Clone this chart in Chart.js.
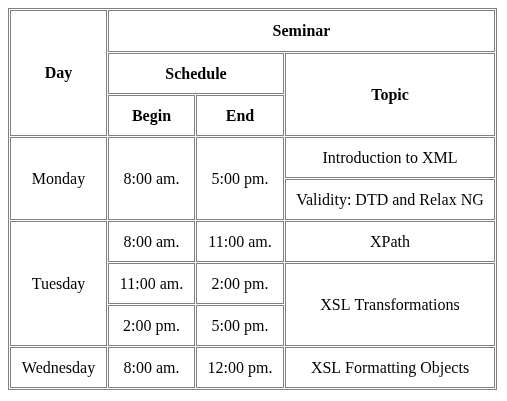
<!DOCTYPE html>
<html><head><meta charset="utf-8">
<script src="https://cdn.jsdelivr.net/npm/chart.js@4"></script>
<style>html,body{margin:0;padding:0;background:#fff}</style>
</head><body>
<canvas id="c" width="507" height="401"></canvas>
<script>
const headers = ["Day","Seminar","Schedule","Topic","Begin","End"];
const days = ["Monday","Tuesday","Wednesday"];
const begins = ["8:00 am.","8:00 am.","11:00 am.","2:00 pm.","8:00 am."];
const ends = ["5:00 pm.","11:00 am.","2:00 pm.","5:00 pm.","12:00 pm."];
const topics = ["Introduction to XML","Validity: DTD and Relax NG","XPath","XSL Transformations","XSL Formatting Objects"];
const colStarts=[10,108,196,285], colEnds=[106,194,283,494];
const rowStarts=[10,53,95,137,179,221,263,305,347], rowEnds=[51,93,135,177,219,261,303,345,387];
const cells=[
 [0,0,1,3,headers[0],1],[1,0,3,1,headers[1],1],[1,1,2,1,headers[2],1],[3,1,1,2,headers[3],1],
 [1,2,1,1,headers[4],1],[2,2,1,1,headers[5],1],
 [0,3,1,2,days[0],0],[1,3,1,2,begins[0],0],[2,3,1,2,ends[0],0],[3,3,1,1,topics[0],0],[3,4,1,1,topics[1],0],
 [0,5,1,3,days[1],0],[1,5,1,1,begins[1],0],[2,5,1,1,ends[1],0],[3,5,1,1,topics[2],0],
 [1,6,1,1,begins[2],0],[2,6,1,1,ends[2],0],[3,6,1,2,topics[3],0],
 [1,7,1,1,begins[3],0],[2,7,1,1,ends[3],0],
 [0,8,1,1,days[2],0],[1,8,1,1,begins[4],0],[2,8,1,1,ends[4],0],[3,8,1,1,topics[4],0]
];
const tablePlugin={id:'tbl',afterDraw(chart){
 const ctx=chart.ctx,x=chart.scales.x,y=chart.scales.y;
 ctx.save();ctx.lineWidth=1;ctx.strokeStyle='#808080';
 const X=v=>Math.round(x.getPixelForValue(v))+0.5,Y=v=>Math.round(y.getPixelForValue(v))+0.5;
 ctx.strokeRect(X(8),Y(8),X(496)-X(8),Y(389)-Y(8));
 ctx.textAlign='center';ctx.textBaseline='middle';ctx.fillStyle='#000';
 for(const [c,r,cs,rs,t,b] of cells){
  const x0=X(colStarts[c]),x1=X(colEnds[c+cs-1]),y0=Y(rowStarts[r]),y1=Y(rowEnds[r+rs-1]);
  ctx.strokeRect(x0,y0,x1-x0,y1-y0);
  ctx.font=(b?'bold ':'')+'16px "Liberation Serif", "Times New Roman", serif';
  ctx.fillText(t,(x0+x1)/2,(y0+y1)/2+1);
 }
 ctx.restore();
}};
new Chart(document.getElementById('c'),{
 type:'scatter',data:{datasets:[{data:[]}]},
 options:{responsive:false,animation:false,layout:{padding:0},
  plugins:{legend:{display:false},tooltip:{enabled:false}},
  scales:{x:{type:'linear',min:0,max:507,display:false},y:{type:'linear',min:0,max:401,reverse:true,display:false}}},
 plugins:[tablePlugin]});
</script></body></html>
